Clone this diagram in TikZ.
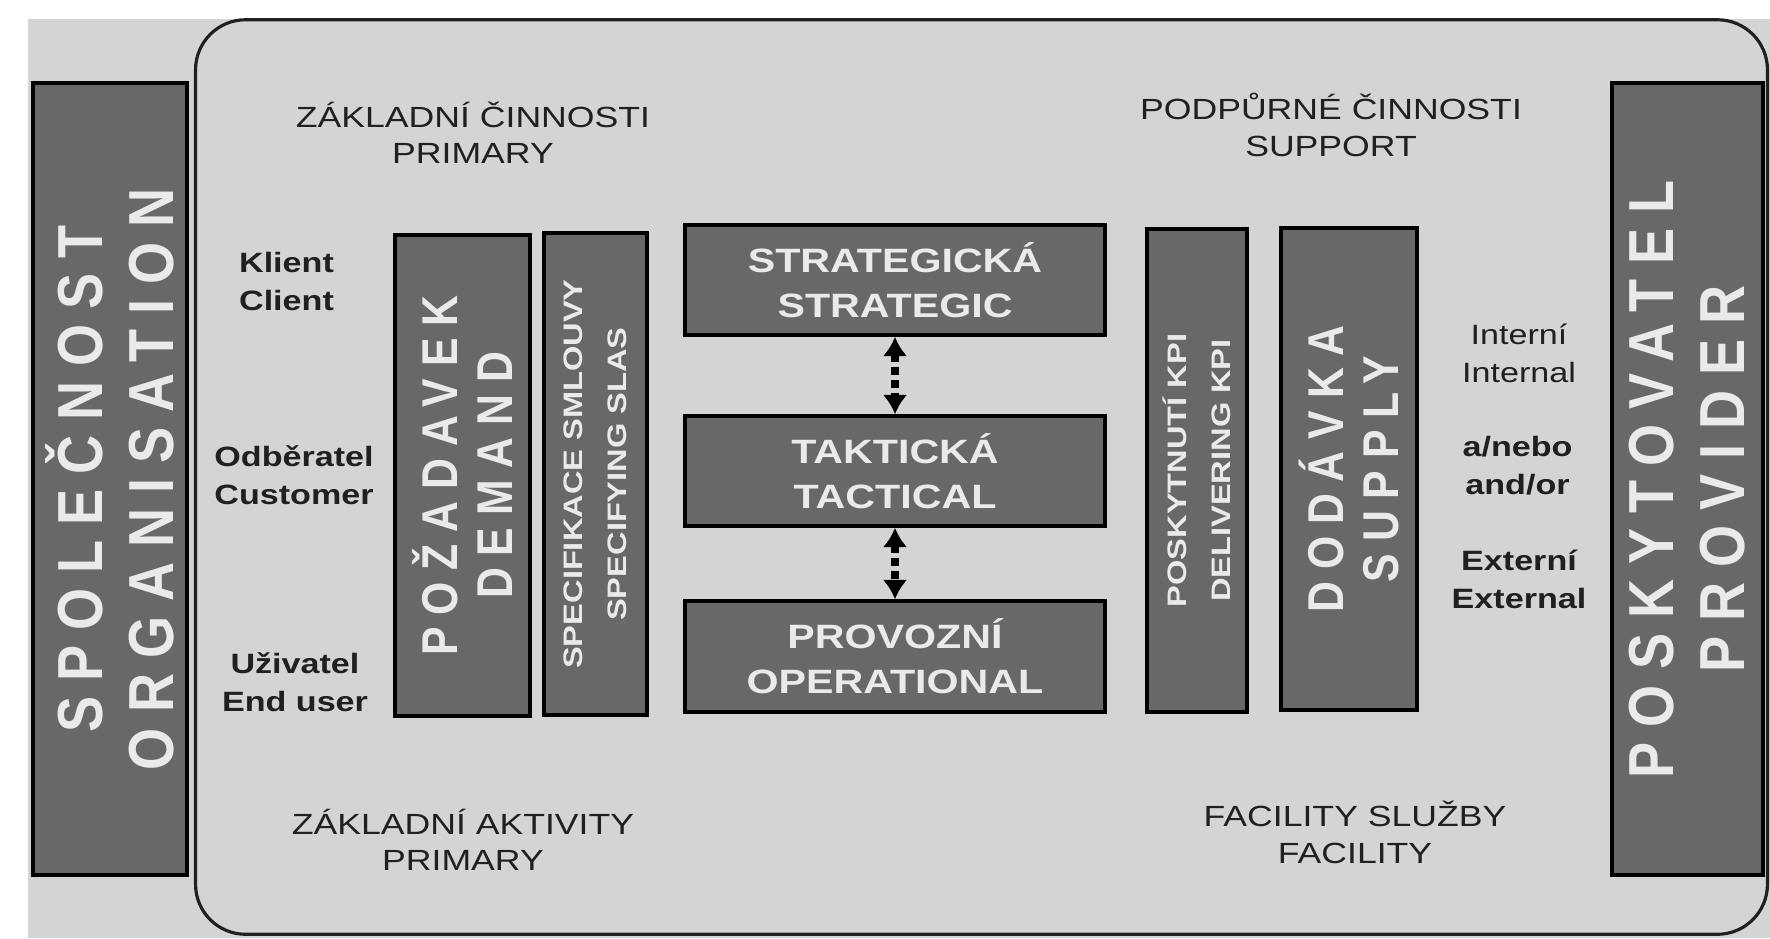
\documentclass[tikz,border=0pt]{standalone}
\usepackage{fontspec}
\setmainfont{Liberation Sans}
\newfontfamily\widefont[FakeStretch=1.22]{Liberation Sans}
\newfontfamily\tallfont[FakeStretch=0.85,LetterSpace=23.6]{Liberation Sans}
\usetikzlibrary{arrows.meta}
\definecolor{paper}{RGB}{212,212,214}
\definecolor{barfill}{RGB}{104,104,106}
\definecolor{ink}{RGB}{32,32,32}
\definecolor{barink}{RGB}{234,234,234}
\tikzset{%
  hd/.style = {align=center,text=ink,inner sep=0pt,
        font=\widefont\fontsize{8.3}{10.4}\selectfont},
  lb/.style = {align=center,text=ink,inner sep=0pt,
        font=\widefont\bfseries\fontsize{7.95}{10.8}\selectfont},
  lbr/.style = {lb,font=\widefont\fontsize{7.95}{10.8}\selectfont},
  bx/.style = {rectangle,draw=black,line width=1pt,fill=barfill,
        text=barink,inner sep=0pt,align=center},
  hbox/.style = {bx,minimum width=4.2cm,minimum height=1.1cm,
        font=\widefont\bfseries\fontsize{9.6}{12.8}\selectfont},
  vbox/.style = {bx,rotate=90},
  bigtxt/.style = {font=\tallfont\bfseries\fontsize{18.1}{20.2}\selectfont},
  midtxt/.style = {font=\tallfont\bfseries\fontsize{14.3}{15.8}\selectfont},
  smalltxt/.style = {font=\widefont\bfseries\fontsize{7.6}{12.6}\selectfont},
  dotarrow/.style = {{Latex[length=5.5pt,width=7pt]}-{Latex[length=5.5pt,width=7pt]},
        line width=2.2pt,dash pattern=on 2.2pt off 1.5pt},
  outline/.style = {rectangle,draw=ink,line width=0.9pt,
        rounded corners=0.5cm,inner sep=0pt}
}
\begin{document}
\begin{tikzpicture}[x=0.01cm,y=-0.01cm]
\useasboundingbox (0,0) rectangle (1770,938);
\fill[paper] (28,19) rectangle (1770,938);
\node[outline,minimum width=15.71cm,minimum height=9.14cm] (frame) at (981.5,477) {};

\node[vbox,bigtxt,minimum width=7.92cm,minimum height=1.54cm] (org) at (110,479) {SPOLEČNOST\\ORGANISATION};
\node[vbox,bigtxt,minimum width=7.92cm,minimum height=1.51cm] (prov) at (1687.5,479) {POSKYTOVATEL\\PROVIDER};

\node[vbox,midtxt,minimum width=4.81cm,minimum height=1.35cm] (demand) at (462.5,475.5) {POŽADAVEK\\DEMAND};
\node[vbox,smalltxt,minimum width=4.82cm,minimum height=1.03cm] (sla) at (595.5,474) {SPECIFIKACE SMLOUVY\\SPECIFYING SLAS};
\node[hbox] (strat) at (895,280) {STRATEGICKÁ\\STRATEGIC};
\node[hbox] (tact) at (895,471) {TAKTICKÁ\\TACTICAL};
\node[hbox,minimum height=1.11cm] (oper) at (895,656.5) {PROVOZNÍ\\OPERATIONAL};
\node[vbox,smalltxt,minimum width=4.83cm,minimum height=1cm] (kpi) at (1197,470.5) {POSKYTNUTÍ KPI\\DELIVERING KPI};
\node[vbox,midtxt,minimum width=4.82cm,minimum height=1.36cm] (supply) at (1349,469) {DODÁVKA\\SUPPLY};

\draw[dotarrow] (strat) -- (tact);
\draw[dotarrow] (tact) -- (oper);

\node[hd] (primtop) at (473,132.7) {ZÁKLADNÍ ČINNOSTI\\PRIMARY};
\node[hd] (supptop) at (1331,125) {PODPŮRNÉ ČINNOSTI\\SUPPORT};
\node[hd] (primbot) at (463,840) {ZÁKLADNÍ AKTIVITY\\PRIMARY};
\node[hd] (facbot) at (1355,832.5) {FACILITY SLUŽBY\\FACILITY};

\node[lb] (client) at (286.5,281) {Klient\\Client};
\node[lb] (customer) at (294,475.5) {Odběratel\\Customer};
\node[lb] (user) at (295,682) {Uživatel\\End user};
\node[lbr] (internal) at (1519,353.5) {Interní\\Internal};
\node[lb] (andor) at (1517.5,466) {a/nebo\\and/or};
\node[lb] (external) at (1519,579.5) {Externí\\External};
\end{tikzpicture}
\end{document}
